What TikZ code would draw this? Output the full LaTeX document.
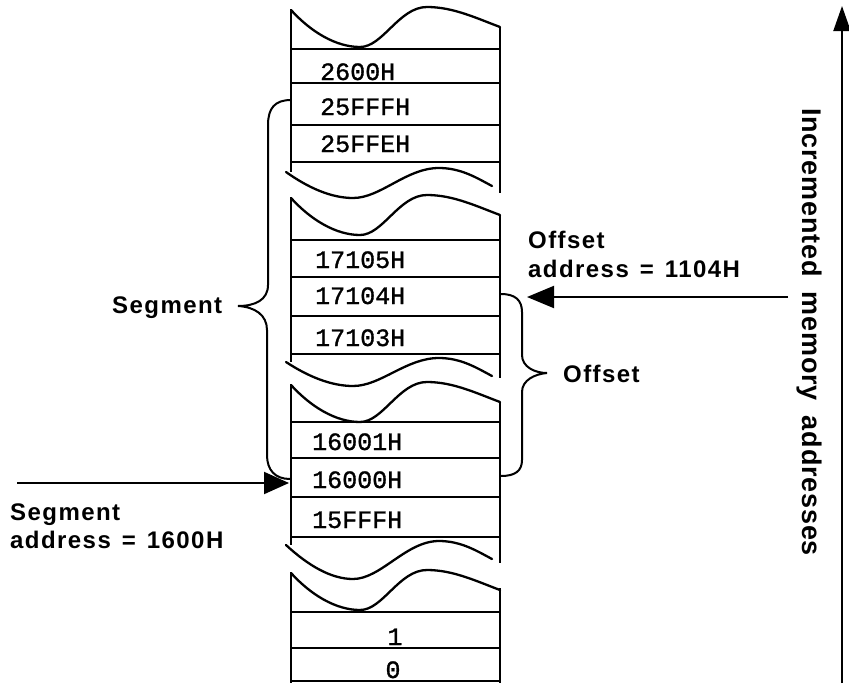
\documentclass[tikz,border=0pt]{standalone}
\usepackage{fontspec}
\setmainfont{Liberation Sans}
\newfontfamily\lblfont[LetterSpace=6]{Liberation Sans}
\newfontfamily\axfont[LetterSpace=3]{Liberation Sans}
\newfontfamily\monofont[FakeBold=1.2]{Liberation Mono}
\usetikzlibrary{arrows.meta}
\begin{document}
\begin{tikzpicture}[x=1pt,y=-1pt,
  col/.style={line width=2.3pt, line join=round},
  wave/.style={line width=2.3pt, line cap=round},
  mono/.style={font=\monofont\fontsize{25}{28}\selectfont, anchor=base west, inner sep=0pt},
  lbl/.style={font=\lblfont\bfseries\fontsize{24}{28}\selectfont, anchor=base west, inner sep=0pt},
  axlbl/.style={font=\axfont\bfseries\fontsize{27}{31}\selectfont, anchor=base west, inner sep=0pt},
  brace/.style={line width=2pt},
  arr/.style={line width=2pt},
  pics/topwave/.style={code={\draw[wave] (0,0) .. controls (20,22) and (45,37) .. (69,37) .. controls (92,37) and (108,-3) .. (136,-3) .. controls (162,-3) and (185,8) .. (209,17);}},
  pics/botwave/.style={code={\draw[wave] (-5,0) .. controls (17,#1*0.6) and (40,#1) .. (62,#1) .. controls (90,#1) and (115,-4) .. (148,-4) .. controls (170,-4) and (186,6) .. (201,14);}}
]
\useasboundingbox (0,0) rectangle (849,683);

% ---- block 1
\pic at (291,10) {topwave};
\draw[col] (291,10) -- (291,172);
\draw[col] (500,27) -- (500,193);
\foreach \y in {49,83,125,162} \draw[col] (291,\y) -- (500,\y);
\pic at (291,172) {botwave=26};
\node[mono] (c2600) at (320,80) {2600H};
\node[mono] (c25fff) at (320,115) {25FFFH};
\node[mono] (c25ffe) at (320,152) {25FFEH};

% ---- block 2
\pic at (291,198) {topwave};
\draw[col] (291,198) -- (291,362);
\draw[col] (500,215) -- (500,378);
\foreach \y in {240,277,316,354} \draw[col] (291,\y) -- (500,\y);
\pic at (291,362) {botwave=24};
\node[mono] (c17105) at (315,268) {17105H};
\node[mono] (c17104) at (315,304) {17104H};
\node[mono] (c17103) at (315,346) {17103H};

% ---- block 3
\pic at (291,385) {topwave};
\draw[col] (291,385) -- (291,545);
\draw[col] (500,402) -- (500,563);
\foreach \y in {422,458,497,537} \draw[col] (291,\y) -- (500,\y);
\pic at (291,545) {botwave=34};
\node[mono] (c16001) at (312,450) {16001H};
\node[mono] (c16000) at (312,488) {16000H};
\node[mono] (c15fff) at (312,528) {15FFFH};

% ---- block 4
\pic at (291,573) {topwave};
\draw[col] (291,573) -- (291,683);
\draw[col] (500,588) -- (500,683);
\foreach \y in {612,648,681} \draw[col] (291,\y) -- (500,\y);
\node[mono, anchor=base] (c1) at (395,645) {1};
\node[mono, anchor=base] (c0) at (393,678) {0};

% ---- braces
\draw[brace] (291,100) .. controls (275,100) and (268,108) .. (268,125) -- (268,285)
  .. controls (268,300) and (255,306) .. (238,306)
  .. controls (255,307) and (267,315) .. (267,330) -- (267,455)
  .. controls (267,470) and (275,479) .. (290,479);
\draw[brace] (501,294) .. controls (515,294) and (522,300) .. (522,312) -- (522,355)
  .. controls (522,367) and (535,373) .. (547,373)
  .. controls (535,374) and (522,380) .. (522,392) -- (522,460)
  .. controls (522,471) and (515,476) .. (501,476);

% ---- labels
\node[lbl] (seglbl) at (112,313) {Segment};
\node[lbl] (segaddr1) at (10,520) {Segment};
\node[lbl] (segaddr2) at (10,548) {address\hspace{11pt}=\hspace{11pt}1600H};
\node[lbl] (offaddr1) at (528,248) {Offset};
\node[lbl] (offaddr2) at (528,277) {address\hspace{11pt}=\hspace{11pt}1104H};
\node[lbl] (offlbl) at (563,382) {Offset};
\node[axlbl, rotate=-90] (axis) at (802,108) {Incremented\hspace{15pt}memory\hspace{15pt}addresses};

% ---- arrows
\coordinate (segsrc) at (17,483);
\coordinate (segtgt) at (289,483);
\coordinate (offsrc) at (788,297);
\coordinate (offtgt) at (527,297);
\coordinate (axbot) at (842,683);
\coordinate (axtop) at (842,6);
\draw[arr, -{Triangle[length=25pt,width=22pt]}] (segsrc) -- (segtgt);
\draw[arr, -{Triangle[length=27pt,width=22pt]}] (offsrc) -- (offtgt);
\draw[arr, -{Triangle[length=25pt,width=17pt]}] (axbot) -- (axtop);
\end{tikzpicture}
\end{document}
